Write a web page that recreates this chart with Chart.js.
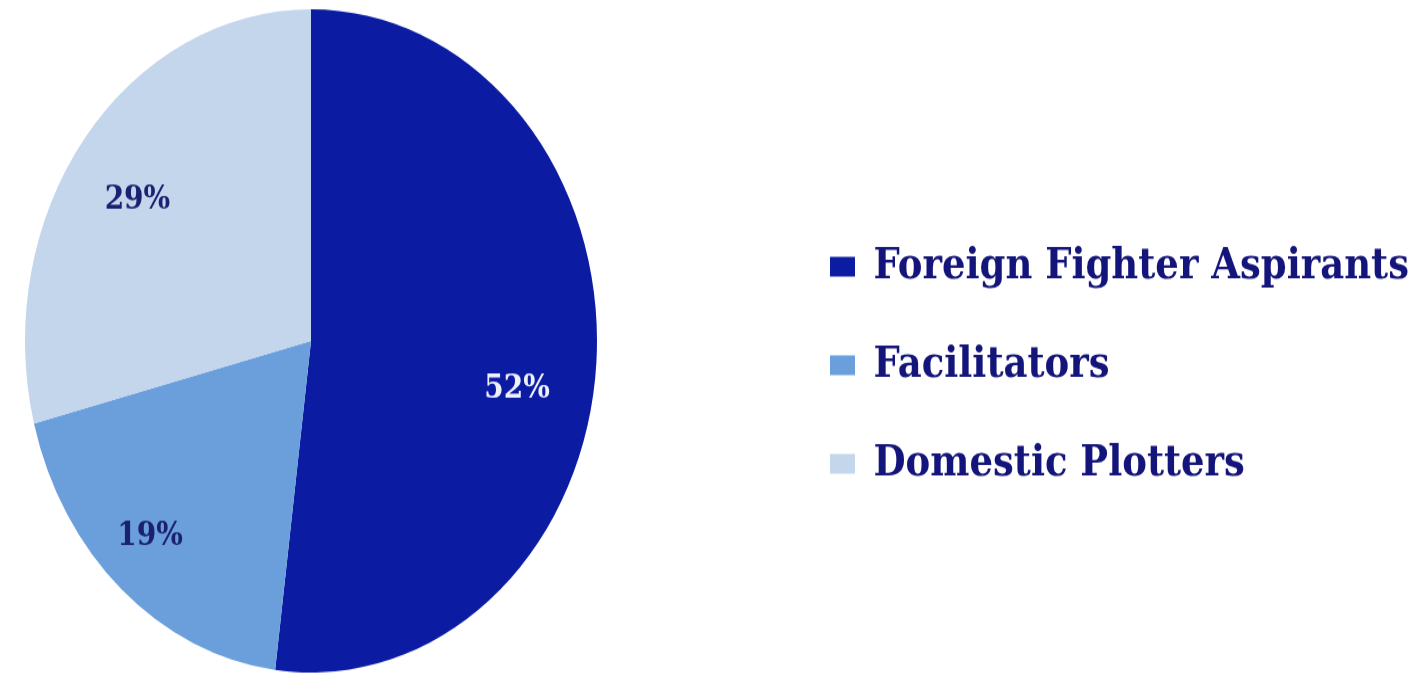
<!DOCTYPE html>
<html>
<head>
<meta charset="utf-8">
<script src="https://cdn.jsdelivr.net/npm/chart.js@4.4.1/dist/chart.umd.min.js"></script>
<style>
  html { overflow: hidden; }
  body { margin: 0; padding: 0; background: #fff; height: 676px; }
  /* the original picture is stretched vertically, so we draw flat and stretch it */
  #wrap { width: 1422px; height: 583px; transform: scaleY(1.1595); transform-origin: 0 0; }
</style>
</head>
<body>
<div id="wrap"><canvas id="grafico" width="1422" height="583"></canvas></div>
<script>
const categories = ['Foreign Fighter Aspirants', 'Facilitators', 'Domestic Plotters'];
const shares = [52, 19, 29];
const sliceColors = ['#0B1CA2', '#6A9FDC', '#C4D6EC'];
const pctColors = ['#EEF1FA', '#1B2170', '#1B2170'];

const PIE_LEFT = 25;    // left edge of the pie
const PIE_RIGHT = 597;  // right edge of the pie
const LEGEND_X = 830;   // x of the legend boxes
const LEG_PAD = 48;

// percent labels inside the slices
const pctLabels = {
  id: 'pctLabels',
  afterDatasetsDraw(chart, args, opts) {
    const ctx = chart.ctx;
    const meta = chart.getDatasetMeta(0);
    ctx.save();
    ctx.font = opts.font;
    ctx.textAlign = 'center';
    ctx.textBaseline = 'middle';
    meta.data.forEach((arc, i) => {
      const p = arc.getProps(['x', 'y', 'startAngle', 'endAngle', 'outerRadius'], true);
      const a = (p.startAngle + p.endAngle) / 2 + opts.shift[i] * Math.PI / 180;
      const r = p.outerRadius * opts.dist[i];
      ctx.fillStyle = pctColors[i];
      ctx.fillText(shares[i] + '%', p.x + Math.cos(a) * r, p.y + Math.sin(a) * r);
    });
    ctx.restore();
  }
};

const ctx = document.getElementById('grafico').getContext('2d');

const chart = new Chart(ctx, {
  type: 'pie',
  data: {
    labels: categories,
    datasets: [{
      data: shares,
      backgroundColor: sliceColors,
      borderWidth: 0
    }]
  },
  options: {
    responsive: false,
    animation: false,
    layout: { padding: { top: 8, bottom: 3, left: PIE_LEFT, right: 0 } },
    scales: {
      // empty spacer between the pie and the legend
      gap: {
        type: 'linear',
        position: 'right',
        grid: { display: false },
        border: { display: false },
        ticks: { display: false },
        afterFit(scale) { scale.width = LEGEND_X - LEG_PAD - PIE_RIGHT; }
      }
    },
    plugins: {
      tooltip: { enabled: false },
      legend: {
        position: 'right',
        maxWidth: 1400,
        title: { display: true, text: ' ', font: { size: 10 }, padding: { top: 15, bottom: 15 } },
        labels: {
          boxWidth: 25,
          boxHeight: 17,
          padding: LEG_PAD,
          color: '#14157A',
          font: { family: '"DejaVu Serif", serif', size: 37, weight: 'bold' }
        }
      },
      pctLabels: {
        font: 'bold 28px "DejaVu Serif", serif',
        shift: [7.8, 2.3, -2.9],
        dist: [0.735, 0.815, 0.74]
      }
    }
  },
  plugins: [pctLabels]
});

// right padding so the legend ends up at LEGEND_X
chart.options.layout.padding.right = chart.width - (LEGEND_X - LEG_PAD) - chart.legend.width;
chart.update();
</script>
</body>
</html>
